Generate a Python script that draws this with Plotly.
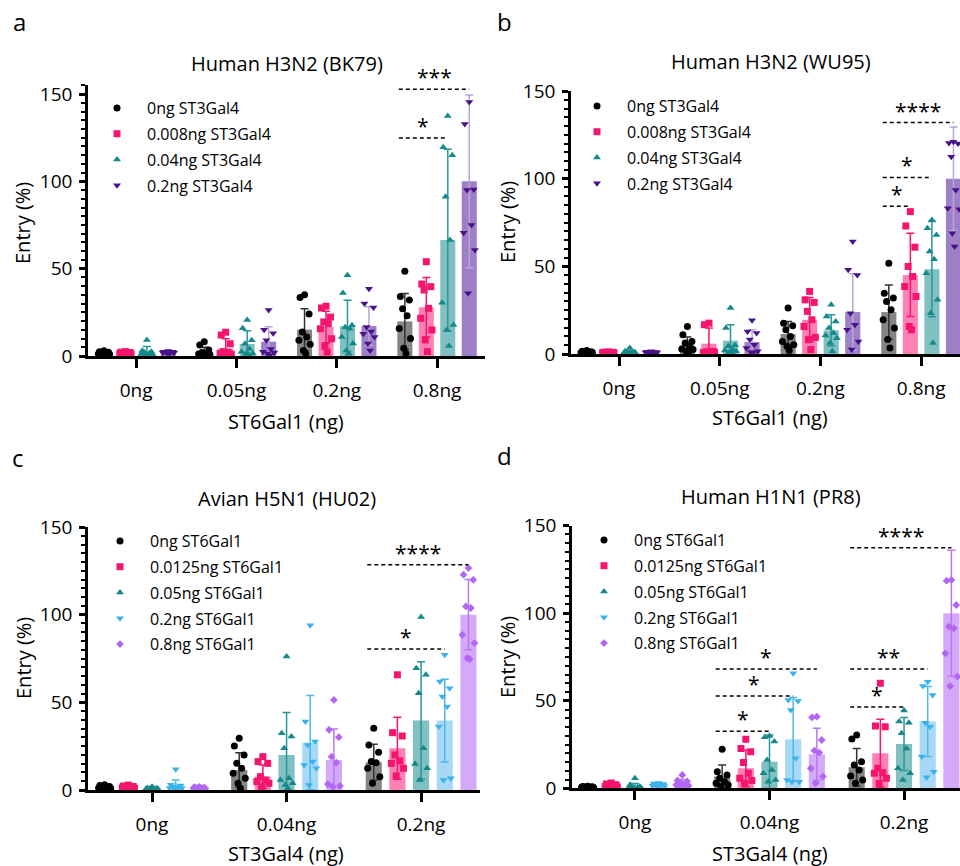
import plotly.graph_objects as go

FONT = "Open Sans"

# ---------------- Panel a: Human H3N2 (BK79) ----------------
A_title = "Human H3N2 (BK79)"
A_xtitle = "ST6Gal1 (ng)"
A_groups = ["0ng", "0.05ng", "0.2ng", "0.8ng"]
A_series = ["0ng ST3Gal4", "0.008ng ST3Gal4", "0.04ng ST3Gal4", "0.2ng ST3Gal4"]
A_mean = [[1.5, 2.5, 15.1, 19.8],
          [1.5, 4.4, 16.6, 27.9],
          [2.5, 6.9, 17.2, 66.4],
          [2.0, 8.2, 17.2, 100.0]]
A_sd = [[1.0, 2.5, 12.0, 16.0],
        [0.8, 5.5, 9.0, 17.0],
        [2.9, 7.5, 14.7, 52.0],
        [0.5, 8.6, 11.0, 49.4]]
A_pts = [
    [[3.0, 2.2, 1.8, 1.2, 1.0, 0.8, 2.5, 1.5, 0.6],
     [8.2, 6.3, 3.4, 2.0, 1.5, 1.2, 0.9, 0.6, 0.8],
     [35.0, 33.5, 24.0, 13.7, 10.9, 9.0, 6.7, 3.2, 1.3],
     [48.5, 34.0, 32.0, 27.0, 23.0, 15.8, 10.0, 4.4, 1.5]],
    [[2.5, 2.0, 1.8, 1.5, 1.2, 1.0, 0.8, 1.4, 2.2],
     [13.6, 12.0, 7.0, 2.5, 1.5, 1.0, 0.8, 0.5, 2.0],
     [28.5, 27.5, 22.3, 18.5, 15.6, 9.9, 5.5, 2.3, 19.5],
     [54.0, 41.2, 39.7, 37.8, 27.3, 21.6, 14.9, 9.2, 2.5]],
    [[9.2, 3.0, 2.0, 1.5, 1.0, 0.8, 2.5, 1.2, 0.5],
     [20.6, 15.9, 9.0, 7.0, 4.0, 2.5, 1.5, 0.8, 1.2],
     [46.2, 36.1, 17.6, 15.6, 10.9, 7.1, 3.2, 1.3, 16.5],
     [137.4, 119.5, 114.9, 91.2, 66.4, 30.5, 17.7, 14.9, 5.7]],
    [[2.8, 2.5, 2.2, 2.0, 1.8, 1.6, 2.1, 1.9, 2.4],
     [26.4, 15.0, 13.0, 9.0, 4.0, 2.0, 1.5, 0.5, 2.5],
     [38.5, 30.0, 27.7, 16.6, 12.8, 10.9, 7.1, 3.2, 14.0],
     [145.4, 132.8, 95.4, 95.0, 75.0, 70.6, 60.7, 35.9]],
]
# (group, from series, to series, line level, label)
A_sig = [(3, 0, 3, 152.8, "***"), (3, 0, 2, 124.8, "*")]

# ---------------- Panel b: Human H3N2 (WU95) ----------------
B_title = "Human H3N2 (WU95)"
B_xtitle = "ST6Gal1 (ng)"
B_groups = ["0ng", "0.05ng", "0.2ng", "0.8ng"]
B_series = ["0ng ST3Gal4", "0.008ng ST3Gal4", "0.04ng ST3Gal4", "0.2ng ST3Gal4"]
B_mean = [[1.0, 4.7, 11.4, 23.9],
          [0.8, 5.9, 19.5, 45.1],
          [1.0, 7.6, 13.5, 48.4],
          [1.0, 6.8, 23.9, 100.0]]
B_sd = [[0.6, 5.0, 7.2, 15.5],
        [0.3, 8.9, 12.7, 23.7],
        [0.8, 9.1, 8.9, 27.1],
        [0.3, 7.0, 21.8, 29.5]]
B_pts = [
    [[2.0, 1.5, 1.2, 1.0, 0.8, 0.6, 0.5, 1.3, 0.9],
     [15.7, 11.0, 7.2, 6.3, 4.4, 2.8, 2.5, 1.5, 1.0],
     [26.2, 17.6, 16.1, 13.8, 10.0, 7.2, 5.3, 4.4, 2.0],
     [51.8, 34.7, 31.9, 30.0, 25.2, 19.5, 14.8, 8.2, 3.4]],
    [[1.2, 1.0, 0.9, 0.8, 0.7, 0.6, 0.8, 1.0, 0.5],
     [17.6, 16.7, 1.5, 1.0, 0.8, 0.6, 1.2, 0.5, 1.0],
     [35.7, 30.9, 29.4, 24.3, 19.5, 15.7, 8.2, 2.5, 9.5],
     [81.2, 73.0, 60.9, 49.9, 44.2, 38.5, 32.8, 15.7, 13.8]],
    [[3.4, 1.5, 1.0, 0.8, 0.5, 0.6, 0.9, 1.2, 0.4],
     [26.2, 14.8, 4.4, 2.5, 1.5, 1.0, 2.0, 0.8, 5.0],
     [28.1, 21.4, 18.6, 14.8, 12.0, 6.3, 1.5, 10.5, 9.0],
     [76.4, 71.7, 67.9, 58.4, 46.1, 30.9, 23.3, 6.3, 54.0]],
    [[1.5, 1.2, 1.0, 0.9, 0.8, 0.7, 1.1, 1.3, 0.6],
     [19.2, 12.9, 12.0, 8.2, 5.3, 3.4, 1.5, 1.0, 0.8],
     [64.1, 48.0, 45.1, 23.3, 16.7, 13.8, 7.2, 2.5],
     [121.0, 120.4, 120.0, 112.5, 93.5, 83.1, 82.5, 68.8, 61.3]],
]
B_sig = [(3, 0, 3, 132.0, "****"), (3, 0, 2, 100.7, "*"), (3, 0, 1, 84.2, "*")]

# ---------------- Panel c: Avian H5N1 (HU02) ----------------
C_title = "Avian H5N1 (HU02)"
C_xtitle = "ST3Gal4 (ng)"
C_groups = ["0ng", "0.04ng", "0.2ng"]
C_series = ["0ng ST6Gal1", "0.0125ng ST6Gal1", "0.05ng ST6Gal1", "0.2ng ST6Gal1", "0.8ng ST6Gal1"]
C_mean = [[1.5, 11.4, 15.8],
          [1.5, 7.6, 23.8],
          [0.8, 20.0, 39.6],
          [2.5, 27.0, 39.6],
          [1.2, 17.1, 100.0]]
C_sd = [[0.8, 9.9, 10.3],
        [0.7, 6.7, 17.7],
        [0.5, 24.2, 33.5],
        [3.2, 26.9, 23.6],
        [0.4, 17.7, 20.0]]
C_pts = [
    [[3.0, 2.5, 2.0, 1.5, 1.2, 1.0, 0.8, 0.6, 1.8],
     [29.5, 25.1, 20.0, 15.2, 12.4, 9.5, 6.7, 3.8, 1.0],
     [35.2, 25.7, 21.5, 16.2, 15.6, 12.4, 7.6, 3.8]],
    [[2.8, 2.3, 2.0, 1.7, 1.5, 1.2, 1.0, 0.8, 0.5],
     [19.0, 16.2, 15.2, 7.6, 5.7, 4.8, 3.8, 1.9],
     [65.7, 32.7, 30.8, 20.0, 16.6, 15.2, 12.4, 8.0]],
    [[1.8, 1.2, 1.0, 0.8, 0.6, 0.5, 0.4, 0.3, 0.7],
     [76.1, 32.4, 30.5, 23.8, 6.7, 5.7, 3.8, 2.9, 1.0],
     [98.6, 69.5, 65.7, 55.2, 23.8, 14.8, 12.4, 5.7]],
    [[11.8, 3.0, 2.5, 2.0, 1.5, 1.2, 1.0, 0.8, 0.5],
     [93.9, 39.0, 27.6, 25.7, 16.2, 14.3, 12.4, 2.9],
     [77.1, 61.9, 58.1, 53.3, 47.6, 36.2, 6.7, 5.7]],
    [[1.8, 1.6, 1.4, 1.2, 1.0, 0.9, 0.8, 0.7, 1.1],
     [51.4, 34.3, 30.1, 19.0, 15.6, 3.4, 2.3, 1.9],
     [126.6, 122.8, 119.9, 104.7, 103.8, 88.5, 83.8, 75.2, 74.6]],
]
C_sig = [(2, 0, 4, 128.4, "****"), (2, 0, 3, 80.4, "*")]

# ---------------- Panel d: Human H1N1 (PR8) ----------------
D_title = "Human H1N1 (PR8)"
D_xtitle = "ST3Gal4 (ng)"
D_groups = ["0ng", "0.04ng", "0.2ng"]
D_series = ["0ng ST6Gal1", "0.0125ng ST6Gal1", "0.05ng ST6Gal1", "0.2ng ST6Gal1", "0.8ng ST6Gal1"]
D_mean = [[0.8, 6.7, 12.0],
          [1.5, 11.4, 20.0],
          [1.0, 15.2, 25.3],
          [2.0, 28.0, 38.1],
          [3.0, 19.4, 100.0]]
D_sd = [[0.4, 6.6, 10.8],
        [1.0, 10.5, 19.4],
        [1.8, 15.3, 15.2],
        [1.0, 23.8, 20.0],
        [2.0, 14.9, 36.0]]
D_pts = [
    [[1.2, 1.0, 0.8, 0.7, 0.6, 0.5, 0.9, 0.4],
     [22.3, 9.5, 7.6, 5.7, 3.8, 2.9, 1.9, 1.0],
     [30.5, 28.2, 15.2, 13.3, 10.5, 7.0, 4.8, 2.9]],
    [[3.0, 2.5, 2.0, 1.5, 1.2, 1.0, 0.8, 0.5],
     [28.0, 22.8, 20.9, 14.7, 8.6, 5.7, 4.4, 2.9],
     [60.0, 35.6, 35.2, 11.4, 8.9, 8.6, 5.7, 2.9]],
    [[5.7, 2.0, 1.0, 0.6, 0.5, 0.4, 0.3, 0.2],
     [29.9, 29.1, 26.7, 16.2, 10.5, 8.6, 4.8, 3.8],
     [44.4, 38.1, 37.5, 31.4, 22.8, 11.4, 8.6, 4.8]],
    [[3.0, 2.8, 2.5, 2.2, 2.0, 1.5, 1.2, 1.0],
     [65.7, 50.4, 49.9, 44.7, 17.1, 4.8, 3.8, 3.8],
     [60.9, 58.4, 53.3, 37.5, 35.2, 18.1, 9.5, 6.3]],
    [[7.6, 4.5, 4.0, 3.0, 2.5, 2.0, 1.5, 1.0],
     [40.9, 40.5, 27.6, 21.5, 20.4, 11.4, 6.7, 2.9],
     [119.0, 118.6, 104.7, 92.3, 91.4, 77.1, 63.8, 58.4]],
]
D_sig = [(2, 0, 4, 137.4, "****"), (2, 0, 3, 68.1, "**"), (2, 0, 2, 46.4, "*"),
         (1, 0, 4, 68.1, "*"), (1, 0, 3, 52.7, "*"), (1, 0, 2, 32.6, "*")]

# ---------------- styles ----------------
MK4 = ["#000000", "#F5146E", "#15888A", "#4A1288"]
FILL4 = ["#858585", "#FF80B2", "#80C0C0", "#9D80C6"]
ERR4 = ["#333333", "#F5146E", "#2A9696", "#B8A6DA"]
SYM4 = ["circle", "square", "triangle-up", "triangle-down"]
SZ4 = [7, 7, 7, 7]
MK5 = ["#000000", "#F5146E", "#15888A", "#3AB2EC", "#B266F2"]
FILL5 = ["#858585", "#FF80B2", "#80C0C0", "#A8D9F4", "#D4A9FA"]
ERR5 = ["#333333", "#F5146E", "#2A9696", "#4DB6EA", "#B57AF0"]
SYM5 = ["circle", "square", "triangle-up", "triangle-down", "diamond"]
SZ5 = [7, 7, 7, 7, 6]

W, H = 960, 866


def px_x(p):
    return p / W


def px_y(p):
    return 1 - p / H


panels = [
    dict(key="", title=A_title, xtitle=A_xtitle, groups=A_groups, series=A_series,
         mean=A_mean, sd=A_sd, pts=A_pts, sig=A_sig, mk=MK4, fill=FILL4, err=ERR4, sym=SYM4, sz=SZ4,
         step=0.214, bw=0.15, xdom=[88, 485], ydom=[356, 85.3], xr=[-0.48, 3.478], yr=[0, 155],
         letter="a", lpos=(19, 22), tpos=(287, 63), xtpos=(286, 421), ytpos=(23, 223),
         leg=(87, 91)),
    dict(key="2", title=B_title, xtitle=B_xtitle, groups=B_groups, series=B_series,
         mean=B_mean, sd=B_sd, pts=B_pts, sig=B_sig, mk=MK4, fill=FILL4, err=ERR4, sym=SYM4, sz=SZ4,
         step=0.214, bw=0.15, xdom=[571, 960], ydom=[354, 91], xr=[-0.477, 3.386], yr=[0, 150],
         letter="b", lpos=(504, 21), tpos=(771, 62), xtpos=(770, 417), ytpos=(507, 222),
         leg=(567, 89)),
    dict(key="3", title=C_title, xtitle=C_xtitle, groups=C_groups, series=C_series,
         mean=C_mean, sd=C_sd, pts=C_pts, sig=C_sig, mk=MK5, fill=FILL5, err=ERR5, sym=SYM5, sz=SZ5,
         step=0.176, bw=0.12, xdom=[88, 480], ydom=[790, 527], xr=[-0.476, 2.438], yr=[0, 150],
         letter="c", lpos=(18, 457), tpos=(287, 498), xtpos=(286, 853), ytpos=(23, 658),
         leg=(90, 524)),
    dict(key="4", title=D_title, xtitle=D_xtitle, groups=D_groups, series=D_series,
         mean=D_mean, sd=D_sd, pts=D_pts, sig=D_sig, mk=MK5, fill=FILL5, err=ERR5, sym=SYM5, sz=SZ5,
         step=0.176, bw=0.12, xdom=[572, 960], ydom=[788.3, 525.7], xr=[-0.468, 2.416], yr=[0, 150],
         letter="d", lpos=(504, 455), tpos=(771, 496), xtpos=(770, 853), ytpos=(507, 657),
         leg=(574, 523)),
]

JIT = [0.0, -0.6, 0.6, -0.3, 0.3, -0.75, 0.75, -0.15, 0.15]


def spread(vals, half):
    order = sorted(range(len(vals)), key=lambda i: -vals[i])
    offs = [0.0] * len(vals)
    for r, i in enumerate(order):
        offs[i] = JIT[r % len(JIT)] * half
    return offs


fig = go.Figure()
shapes = []
annotations = []
layout_axes = {}

for p in panels:
    k = p["key"]
    xa, ya = "x" + k, "y" + k
    legname = "legend" + k
    n = len(p["series"])
    offsets = [(i - (n - 1) / 2) * p["step"] for i in range(n)]
    for i, name in enumerate(p["series"]):
        xs = [g + offsets[i] for g in range(len(p["groups"]))]
        fig.add_trace(go.Bar(
            x=xs, y=p["mean"][i], width=p["bw"], marker=dict(color=p["fill"][i], line=dict(width=0)),
            error_y=dict(type="data", array=p["sd"][i], color=p["err"][i], thickness=1.5, width=4),
            xaxis=xa, yaxis=ya, showlegend=False, hoverinfo="skip"))
    for i, name in enumerate(p["series"]):
        px_, py_ = [], []
        for g, vals in enumerate(p["pts"][i]):
            offs = spread(vals, p["bw"] * 0.5)
            for v, o in zip(vals, offs):
                px_.append(g + offsets[i] + o)
                py_.append(v)
        fig.add_trace(go.Scatter(
            x=px_, y=py_, mode="markers", name=name, legendgroup=legname + str(i),
            marker=dict(color=p["mk"][i], symbol=p["sym"][i], size=p["sz"][i], line=dict(width=0)),
            xaxis=xa, yaxis=ya, legend=legname, showlegend=True))
    # significance lines and stars
    for (g, a, b, lvl, lab) in p["sig"]:
        x0 = g + offsets[a] - p["bw"] * 0.4
        x1 = g + offsets[b]
        shapes.append(dict(type="line", xref=xa, yref=ya, x0=x0, x1=x1, y0=lvl, y1=lvl,
                           line=dict(color="black", width=1.5, dash="4px,3px")))
        annotations.append(dict(xref=xa, yref=ya, x=(x0 + x1) / 2, y=lvl, text=lab,
                                showarrow=False, yanchor="bottom", yshift=-4,
                                font=dict(family=FONT, size=21, color="black")))
    # axes
    xdom = [px_x(p["xdom"][0]), px_x(p["xdom"][1])]
    ydom = [px_y(p["ydom"][0]), px_y(p["ydom"][1])]
    layout_axes["xaxis" + k] = dict(
        domain=xdom, range=p["xr"], anchor=ya, tickvals=list(range(len(p["groups"]))),
        ticktext=p["groups"], showline=True, linecolor="black", linewidth=2.5,
        ticks="outside", ticklen=9, tickwidth=2.5, tickcolor="black", showgrid=False,
        zeroline=False, ticklabelstandoff=6, automargin=False,
        tickfont=dict(family=FONT, size=19, color="black"))
    layout_axes["yaxis" + k] = dict(
        domain=ydom, range=p["yr"], anchor=xa, tickvals=[0, 50, 100, 150],
        showline=True, linecolor="black", linewidth=2.5, ticks="outside", ticklen=6,
        tickwidth=2.5, tickcolor="black", showgrid=False, zeroline=False, automargin=False,
        minor=dict(dtick=5, ticks="outside", ticklen=4, tickwidth=1.5, tickcolor="black", showgrid=False),
        ticklabelstandoff=3,
        tickfont=dict(family=FONT, size=19, color="black"))
    layout_axes[legname] = dict(
        x=px_x(p["leg"][0]), y=px_y(p["leg"][1]), xanchor="left", yanchor="top",
        bgcolor="rgba(0,0,0,0)", font=dict(family=FONT, size=16, color="black"),
        itemwidth=50, tracegroupgap=2)
    # texts
    annotations.append(dict(xref="paper", yref="paper", x=px_x(p["lpos"][0]), y=px_y(p["lpos"][1]),
                            text=p["letter"], showarrow=False, xanchor="center", yanchor="middle",
                            font=dict(family=FONT, size=24, color="black")))
    annotations.append(dict(xref="paper", yref="paper", x=px_x(p["tpos"][0]), y=px_y(p["tpos"][1]),
                            text=p["title"], showarrow=False, xanchor="center", yanchor="middle",
                            font=dict(family=FONT, size=20, color="black")))
    annotations.append(dict(xref="paper", yref="paper", x=px_x(p["xtpos"][0]), y=px_y(p["xtpos"][1]),
                            text=p["xtitle"], showarrow=False, xanchor="center", yanchor="middle",
                            font=dict(family=FONT, size=20, color="black")))
    annotations.append(dict(xref="paper", yref="paper", x=px_x(p["ytpos"][0]), y=px_y(p["ytpos"][1]),
                            text="Entry (%)", showarrow=False, xanchor="center", yanchor="middle",
                            textangle=-90, font=dict(family=FONT, size=20, color="black")))

fig.update_layout(
    width=W, height=H, margin=dict(l=0, r=0, t=0, b=0, pad=0, autoexpand=False),
    paper_bgcolor="white", plot_bgcolor="white", barmode="overlay",
    font=dict(family=FONT, color="black"),
    shapes=shapes, annotations=annotations, **layout_axes)

fig.write_html("out.html", config={"displayModeBar": False},
               post_script="document.body.style.margin='0px';")
